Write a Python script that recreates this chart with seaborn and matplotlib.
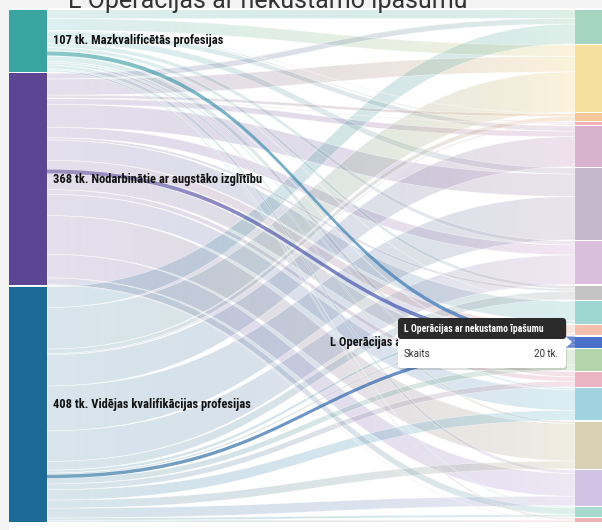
import os
import numpy as np
import matplotlib.pyplot as plt
import seaborn as sns
from matplotlib import font_manager
from matplotlib.colors import to_rgb
from matplotlib.path import Path
from matplotlib.patches import PathPatch, Rectangle, FancyBboxPatch, Polygon

# %% Data
title = "L Operācijas ar nekustamo īpašumu"

sources = ["Mazkvalificētās profesijas",
           "Nodarbinātie ar augstāko izglītību",
           "Vidējas kvalifikācijas profesijas"]
source_colors = ["#3aa5a0", "#5c4694", "#1d6a96"]

targets = ["A Lauksaimniecība, mežsaimniecība un zivsaimniecība",
           "C Apstrādes rūpniecība",
           "D Elektroenerģija, gāzes apgāde, siltumapgāde",
           "E Ūdens apgāde, atkritumu apsaimniekošana",
           "F Būvniecība",
           "G Vairumtirdzniecība un mazumtirdzniecība",
           "H Transports un uzglabāšana",
           "I Izmitināšana un ēdināšanas pakalpojumi",
           "J Informācijas un komunikācijas pakalpojumi",
           "K Finanšu un apdrošināšanas darbības",
           "L Operācijas ar nekustamo īpašumu",
           "M Profesionālie, zinātniskie un tehniskie pakalpojumi",
           "N Administratīvo un apkalpojošo dienestu darbība",
           "O Valsts pārvalde un aizsardzība",
           "P Izglītība",
           "Q Veselība un sociālā aprūpe",
           "R Māksla, izklaide un atpūta",
           "S Citi pakalpojumi"]
target_colors = ["#a6d6c2", "#f7dfa0", "#f4c89c", "#f0b0b4", "#d8b2cc",
                 "#c6b8cc", "#dbbedb", "#c4c4c4", "#9ed6d2", "#f2c0ac",
                 "#4a70c8", "#b4d4ac", "#eab4c4", "#a0d2e0", "#d8d0b2",
                 "#d2c2e4", "#a6dace", "#f0b4b8"]

# thousands of employed, per source, in target order
low_skill = [15, 20, 1, 2, 9, 11, 7, 6, 1, 0, 7, 1, 9, 3, 4, 6, 2, 3]
high_edu = [10, 28, 5, 1, 10, 40, 18, 4, 35, 16, 7, 28, 8, 37, 67, 41, 12, 1]
mid_skill = [36, 72, 8, 2, 54, 78, 53, 15, 5, 3, 6, 10, 10, 18, 14, 17, 4, 3]

highlight = "L Operācijas ar nekustamo īpašumu"
tooltip_label = "Skaits"


def find_font(keys, size):
    for key in keys:
        for f in font_manager.fontManager.ttflist:
            if os.path.basename(f.fname).startswith(key):
                fp = font_manager.FontProperties(fname=f.fname)
                fp.set_size(size)
                return fp
    return font_manager.FontProperties(family="Roboto", weight="bold", size=size)


def link_path(x0, x1, s0, s1, t0, t1):
    xm = (x0 + x1) / 2
    verts = [(x0, s0), (xm, s0), (xm, t0), (x1, t0),
             (x1, t1), (xm, t1), (xm, s1), (x0, s1), (x0, s0)]
    codes = [Path.MOVETO, Path.CURVE4, Path.CURVE4, Path.CURVE4,
             Path.LINETO, Path.CURVE4, Path.CURVE4, Path.CURVE4, Path.CLOSEPOLY]
    return Path(verts, codes)


def gradient_fill(ax, path, c0, c1, a0, a1, x0, x1, zorder):
    t = np.linspace(0, 1, 128)
    rgb = (1 - t)[:, None] * np.array(to_rgb(c0)) + t[:, None] * np.array(to_rgb(c1))
    alpha = (1 - t) * a0 + t * a1
    img = np.concatenate([rgb, alpha[:, None]], axis=1)[None, :, :]
    im = ax.imshow(img, extent=[x0, x1, 530, 0], aspect="auto",
                   interpolation="bilinear", zorder=zorder)
    patch = PathPatch(path, facecolor="none", edgecolor="none")
    ax.add_patch(patch)
    im.set_clip_path(patch)


def main():
    sns.set_theme(style="white")
    plt.rcParams["font.family"] = ["Roboto", "DejaVu Sans"]

    flows = np.array([low_skill, high_edu, mid_skill], dtype=float)
    src_tot = flows.sum(axis=1)
    tgt_tot = flows.sum(axis=0)
    hl = targets.index(highlight)

    fig = plt.figure(figsize=(6.02, 5.30), dpi=100, facecolor="#f3f3f3")
    ax = fig.add_axes([0, 0, 1, 1])
    ax.set_facecolor("#f3f3f3")
    ax.add_patch(Rectangle((9, 8), 600, 530, facecolor="white", edgecolor="none", zorder=0))

    top, bottom = 10, 522
    xl0, xl1 = 9, 47
    xr0, xr1 = 575, 615
    pad_l, pad_r = 1.5, 1.2
    sc_l = (bottom - top - pad_l * (len(sources) - 1)) / src_tot.sum()
    sc_r = (bottom - top - pad_r * (len(targets) - 1)) / tgt_tot.sum()

    src_y = top + np.concatenate([[0], np.cumsum(src_tot[:-1] * sc_l + pad_l)])
    tgt_y = top + np.concatenate([[0], np.cumsum(tgt_tot[:-1] * sc_r + pad_r)])

    # link offsets: at source ordered by target, at target ordered by source
    src_off = src_y[:, None] + np.concatenate(
        [np.zeros((3, 1)), np.cumsum(flows, axis=1)[:, :-1]], axis=1) * sc_l
    tgt_off = tgt_y[None, :] + np.concatenate(
        [np.zeros((1, len(targets))), np.cumsum(flows, axis=0)[:-1, :]], axis=0) * sc_r

    hl_links = []
    for i in range(len(sources)):
        for j in range(len(targets)):
            v = flows[i, j]
            if v <= 0:
                continue
            s0 = src_off[i, j]
            t0 = tgt_off[i, j]
            path = link_path(xl1, xr0, s0, s0 + v * sc_l, t0, t0 + v * sc_r)
            if j == hl:
                hl_links.append((path, source_colors[i]))
                continue
            gradient_fill(ax, path, source_colors[i], target_colors[j],
                          0.17, 0.38, xl1, xr0, zorder=1)
            ax.add_patch(PathPatch(path, facecolor="none", edgecolor="white",
                                   lw=0.5, alpha=0.5, zorder=2))

    for path, col in hl_links:
        gradient_fill(ax, path, col, target_colors[hl], 0.6, 0.85, xl1, xr0, zorder=3)

    # nodes
    for i, name in enumerate(sources):
        h = src_tot[i] * sc_l
        ax.add_patch(Rectangle((xl0, src_y[i]), xl1 - xl0, h,
                               facecolor=source_colors[i], edgecolor="none", zorder=4))
    for j in range(len(targets)):
        h = tgt_tot[j] * sc_r
        ax.add_patch(Rectangle((xr0, tgt_y[j]), xr1 - xr0, h,
                               facecolor=target_colors[j], edgecolor="none", zorder=4))

    label_font = find_font(["RobotoCondensed-Bold.", "LiberationSansNarrow-Bold.",
                            "DejaVuSansCondensed-Bold."], 9)
    for i, name in enumerate(sources):
        yc = src_y[i] + src_tot[i] * sc_l / 2
        ax.text(xl1 + 6, yc, f"{src_tot[i]:.0f} tk. {name}", ha="left", va="center",
                fontproperties=label_font, color="#111111", zorder=5)
    yc = tgt_y[hl] + tgt_tot[hl] * sc_r / 2
    ax.text(330, yc, highlight, ha="left", va="center",
            fontproperties=label_font, color="#111111", zorder=5)

    # tooltip
    bx0, bx1, by0, by1 = 398, 566, 318, 368
    ax.add_patch(FancyBboxPatch((bx0 + 1, by0 + 2), bx1 - bx0, by1 - by0,
                                boxstyle="round,pad=0,rounding_size=3",
                                facecolor="black", edgecolor="none", alpha=0.12, zorder=6))
    ax.add_patch(FancyBboxPatch((bx0, by0), bx1 - bx0, by1 - by0,
                                boxstyle="round,pad=0,rounding_size=3",
                                facecolor="white", edgecolor="none", zorder=7))
    ax.add_patch(Polygon([(bx1 - 0.5, yc - 6), (bx1 + 6, yc), (bx1 - 0.5, yc + 6)],
                         closed=True, facecolor="white", edgecolor="none", zorder=7))
    ax.add_patch(FancyBboxPatch((bx0, by0), bx1 - bx0, 21,
                                boxstyle="round,pad=0,rounding_size=3",
                                facecolor="#2b2b2b", edgecolor="none", zorder=8))
    tip_font = find_font(["RobotoCondensed-Bold.", "LiberationSansNarrow-Bold.",
                          "DejaVuSansCondensed-Bold."], 7)
    ax.text(bx0 + 6, by0 + 10.5, highlight, ha="left", va="center",
            fontproperties=tip_font, color="white", zorder=9)
    ax.text(bx0 + 6, by0 + 36, tooltip_label, ha="left", va="center",
            fontsize=7, color="#333333", zorder=9)
    ax.text(bx1 - 8, by0 + 36, f"{tgt_tot[hl]:.0f} tk.", ha="right", va="center",
            fontsize=7, color="#333333", zorder=9)

    # title sits partly above the visible area, as in the source page
    ax.text(268, 8, title, ha="center", va="baseline", fontsize=18,
            color="#333333", zorder=9)

    ax.set_xlim(0, 602)
    ax.set_ylim(530, 0)
    ax.axis("off")
    fig.savefig("out.png", dpi=100, facecolor=fig.get_facecolor())


if __name__ == "__main__":
    main()
